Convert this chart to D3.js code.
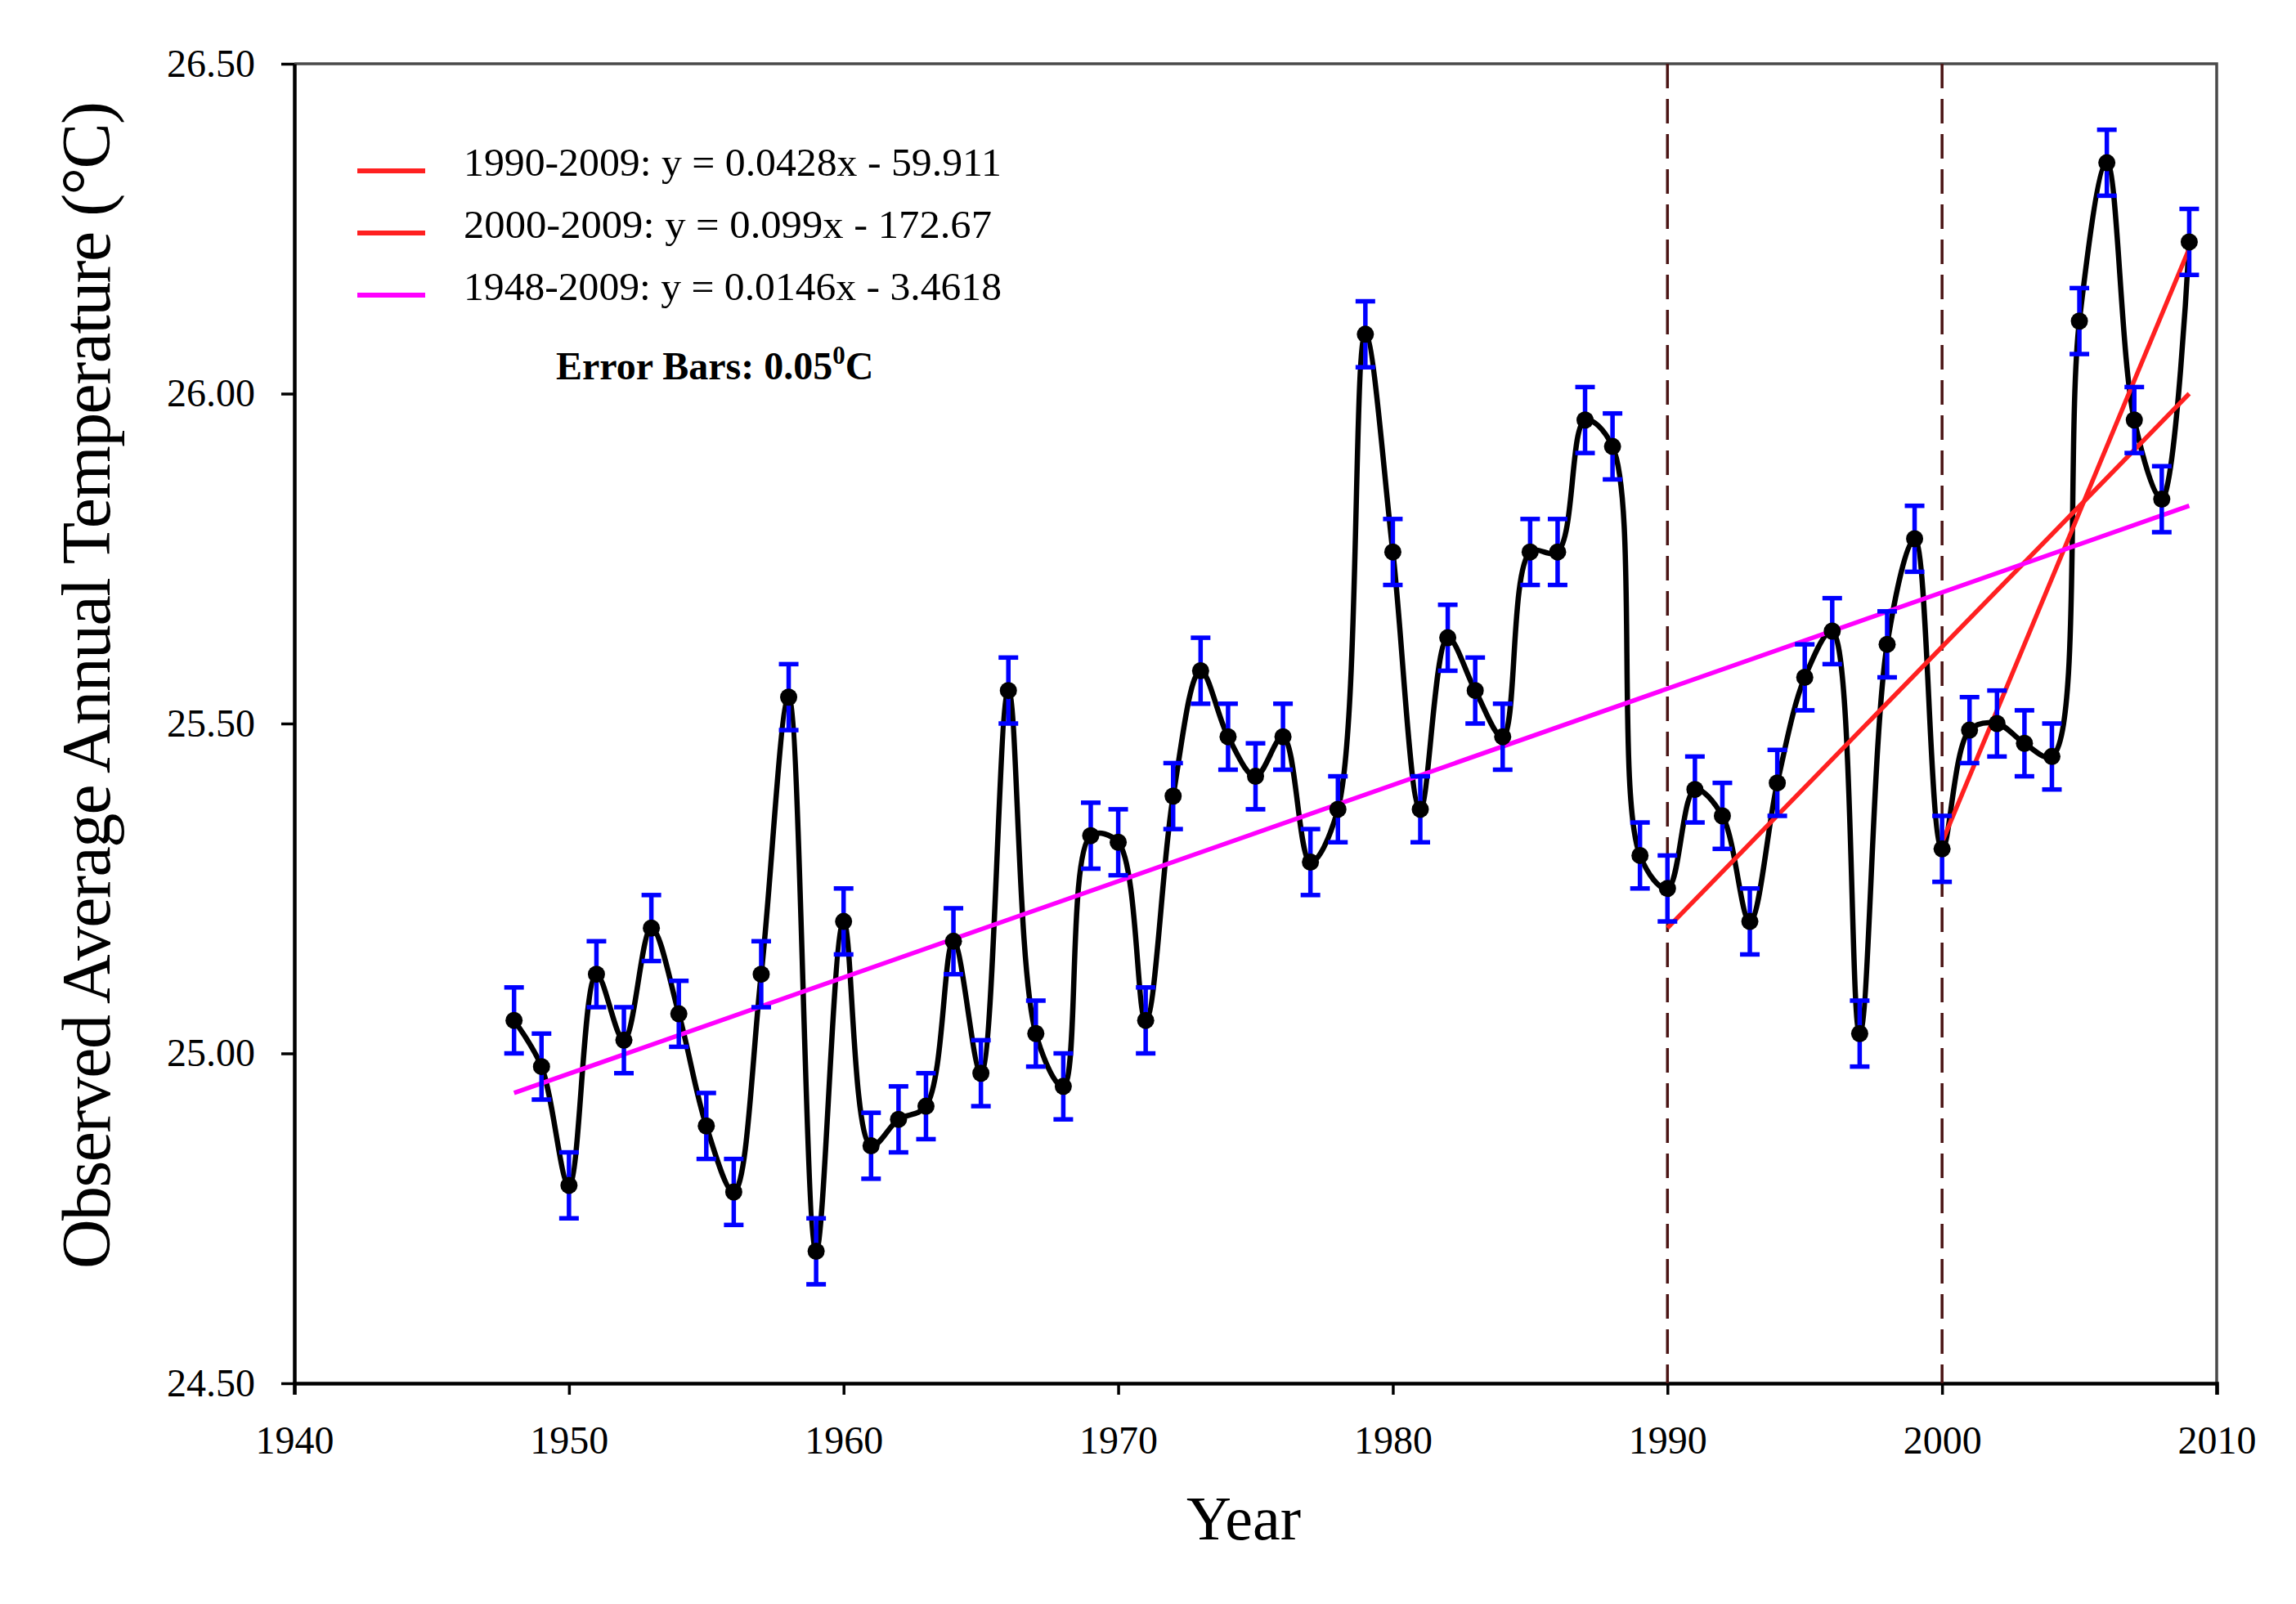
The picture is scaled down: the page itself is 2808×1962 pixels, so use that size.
<!DOCTYPE html>
<html>
<head>
<meta charset="utf-8">
<script src="https://cdn.jsdelivr.net/npm/d3@7"></script>
<style>
  html, body { margin: 0; padding: 0; background: #fff; }
  svg { display: block; }
</style>
</head>
<body>
<svg width="2808" height="1962"></svg>
<script>
const years = [
  1948, 1949, 1950, 1951, 1952, 1953, 1954, 1955, 1956, 1957,
  1958, 1959, 1960, 1961, 1962, 1963, 1964, 1965, 1966, 1967,
  1968, 1969, 1970, 1971, 1972, 1973, 1974, 1975, 1976, 1977,
  1978, 1979, 1980, 1981, 1982, 1983, 1984, 1985, 1986, 1987,
  1988, 1989, 1990, 1991, 1992, 1993, 1994, 1995, 1996, 1997,
  1998, 1999, 2000, 2001, 2002, 2003, 2004, 2005, 2006, 2007,
  2008, 2009
];
const temps = [
  25.05, 24.98, 24.80, 25.12, 25.02, 25.19, 25.06, 24.89, 24.79, 25.12,
  25.54, 24.70, 25.20, 24.86, 24.90, 24.92, 25.17, 24.97, 25.55, 25.03,
  24.95, 25.33, 25.32, 25.05, 25.39, 25.58, 25.48, 25.42, 25.48, 25.29,
  25.37, 26.09, 25.76, 25.37, 25.63, 25.55, 25.48, 25.76, 25.76, 25.96,
  25.92, 25.30, 25.25, 25.40, 25.36, 25.20, 25.41, 25.57, 25.64, 25.03,
  25.62, 25.78, 25.31, 25.49, 25.50, 25.47, 25.45, 26.11, 26.35, 25.96,
  25.84, 26.23
];
const errorBar = 0.05;

const trendLabels = [
  "1990-2009: y = 0.0428x - 59.911",
  "2000-2009: y = 0.099x - 172.67",
  "1948-2009: y = 0.0146x - 3.4618"
];
const trendYears = [[1990, 2009], [2000, 2009], [1948, 2009]];
const trendTemps = [[25.19, 26.00], [25.32, 26.22], [24.94, 25.83]];
const trendColors = ["#ff2020", "#ff2020", "#ff00ff"];

const dividerYears = [1990, 2000];
const xTicks = [1940, 1950, 1960, 1970, 1980, 1990, 2000, 2010];
const yTicks = [24.5, 25.0, 25.5, 26.0, 26.5];

const serif = "'Liberation Serif', 'Times New Roman', serif";
const plotLeft = 360, plotRight = 2711, plotTop = 78, plotBottom = 1692;

const svg = d3.select("svg");
svg.append("rect").attr("width", 2808).attr("height", 1962).attr("fill", "#fff");

const x = d3.scaleLinear().domain([1940, 2010]).range([plotLeft, plotRight]);
const y = d3.scaleLinear().domain([24.5, 26.5]).range([plotBottom, plotTop]);

const data = years.map((yr, i) => ({ year: yr, temp: temps[i] }));

// frame (top / right)
svg.append("path")
  .attr("d", `M${plotLeft},${plotTop}H${plotRight}V${plotBottom}`)
  .attr("fill", "none")
  .attr("stroke", "#4a4a4a")
  .attr("stroke-width", 3.5);

// axes
const yAxis = svg.append("g")
  .attr("transform", `translate(${plotLeft},0)`)
  .call(d3.axisLeft(y)
    .tickValues(yTicks)
    .tickFormat(d3.format(".2f"))
    .tickSize(16)
    .tickSizeOuter(0)
    .tickPadding(32));

const xAxis = svg.append("g")
  .attr("transform", `translate(0,${plotBottom})`)
  .call(d3.axisBottom(x)
    .tickValues(xTicks)
    .tickFormat(d3.format("d"))
    .tickSize(14)
    .tickPadding(38));

[yAxis, xAxis].forEach(g => {
  g.select(".domain").attr("stroke", "#000").attr("stroke-width", 4.5);
  g.selectAll(".tick line").attr("stroke", "#000").attr("stroke-width", 3.5);
  g.selectAll(".tick text")
    .attr("fill", "#000")
    .attr("font-family", serif)
    .attr("font-size", "48px");
});

// dashed dividers
svg.append("g")
  .selectAll("line")
  .data(dividerYears)
  .join("line")
  .attr("x1", d => x(d))
  .attr("x2", d => x(d))
  .attr("y1", plotTop)
  .attr("y2", plotBottom)
  .attr("stroke", "#4a1414")
  .attr("stroke-width", 3.5)
  .attr("stroke-dasharray", "30,13");

// spline through observations
const line = d3.line()
  .x(d => x(d.year))
  .y(d => y(d.temp))
  .curve(d3.curveCatmullRom.alpha(0.5));

svg.append("path")
  .datum(data)
  .attr("d", line)
  .attr("fill", "none")
  .attr("stroke", "#000")
  .attr("stroke-width", 6.5)
  .attr("stroke-linejoin", "round");

// trend lines
svg.append("g")
  .selectAll("line")
  .data(trendYears)
  .join("line")
  .attr("x1", d => x(d[0]))
  .attr("x2", d => x(d[1]))
  .attr("y1", (d, i) => y(trendTemps[i][0]))
  .attr("y2", (d, i) => y(trendTemps[i][1]))
  .attr("stroke", (d, i) => trendColors[i])
  .attr("stroke-width", 5.5);

// error bars
const err = svg.append("g")
  .attr("stroke", "#0000ff")
  .attr("stroke-width", 5.5)
  .selectAll("g")
  .data(data)
  .join("g");

err.append("line")
  .attr("x1", d => x(d.year))
  .attr("x2", d => x(d.year))
  .attr("y1", d => y(d.temp - errorBar))
  .attr("y2", d => y(d.temp + errorBar));

err.append("line")
  .attr("x1", d => x(d.year) - 12)
  .attr("x2", d => x(d.year) + 12)
  .attr("y1", d => y(d.temp + errorBar))
  .attr("y2", d => y(d.temp + errorBar));

err.append("line")
  .attr("x1", d => x(d.year) - 12)
  .attr("x2", d => x(d.year) + 12)
  .attr("y1", d => y(d.temp - errorBar))
  .attr("y2", d => y(d.temp - errorBar));

// points
svg.append("g")
  .selectAll("circle")
  .data(data)
  .join("circle")
  .attr("cx", d => x(d.year))
  .attr("cy", d => y(d.temp))
  .attr("r", 10.5)
  .attr("fill", "#000");

// legend
const legend = svg.append("g")
  .selectAll("g")
  .data(trendLabels)
  .join("g")
  .attr("transform", (d, i) => `translate(0,${i * 76})`);

legend.append("line")
  .attr("x1", 437)
  .attr("x2", 520)
  .attr("y1", 209)
  .attr("y2", 209)
  .attr("stroke", (d, i) => trendColors[i])
  .attr("stroke-width", 6);

legend.append("text")
  .attr("x", 567)
  .attr("y", 215)
  .attr("font-family", serif)
  .attr("font-size", "49px")
  .attr("fill", "#000")
  .attr("textLength", (d, i) => [658, 646, 658][i])
  .attr("lengthAdjust", "spacingAndGlyphs")
  .text(d => d);

const errText = svg.append("text")
  .attr("x", 680)
  .attr("y", 464)
  .attr("font-family", serif)
  .attr("font-size", "48px")
  .attr("font-weight", "bold")
  .attr("fill", "#000");
errText.append("tspan").text("Error Bars: 0.05");
errText.append("tspan").attr("dy", -19).attr("font-size", "31px").text("0");
errText.append("tspan").attr("dy", 19).text("C");

// axis titles
svg.append("text")
  .attr("transform", "translate(134,838) rotate(-90)")
  .attr("text-anchor", "middle")
  .attr("font-family", serif)
  .attr("font-size", "84px")
  .attr("fill", "#000")
  .attr("textLength", 1428)
  .attr("lengthAdjust", "spacing")
  .text("Observed Average Annual Temperature (\u00B0C)");

svg.append("text")
  .attr("x", 1521)
  .attr("y", 1883)
  .attr("text-anchor", "middle")
  .attr("font-family", serif)
  .attr("font-size", "76px")
  .attr("fill", "#000")
  .text("Year");
</script>
</body>
</html>
